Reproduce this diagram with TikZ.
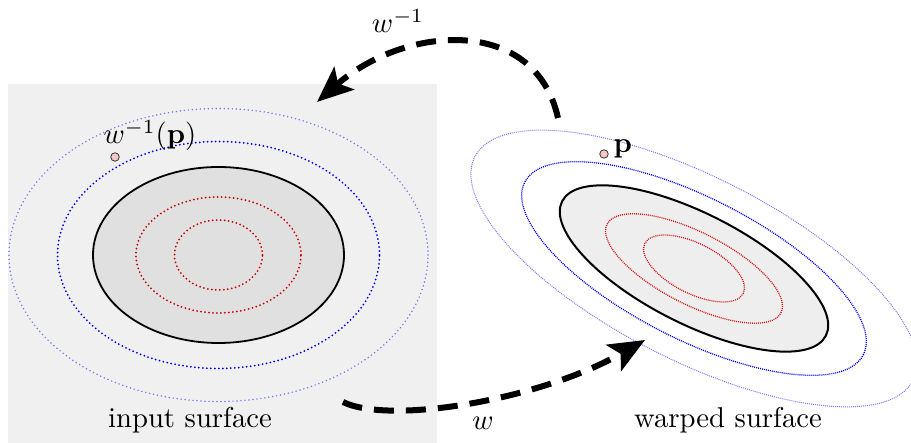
\documentclass[tikz,border=0pt]{standalone}
\usetikzlibrary{arrows.meta}
\definecolor{bgray}{RGB}{240,240,240}
\definecolor{egray}{RGB}{224,224,224}
\definecolor{rgray}{RGB}{238,238,238}
\definecolor{lblue}{RGB}{120,120,255}
\definecolor{dblue}{RGB}{0,0,235}
\definecolor{dred}{RGB}{200,0,0}
\definecolor{pinkpt}{RGB}{245,200,200}
\tikzset{
  lbl/.style={scale=2.87, inner sep=0pt, anchor=base},
  dotL/.style={line cap=round, dash pattern=on 0pt off 4pt, line width=2pt},
  dotLL/.style={line cap=round, dash pattern=on 0pt off 4pt, line width=1.7pt},
  dotR/.style={dash pattern=on 1pt off 1pt, line width=1.3pt},
  dotRL/.style={dash pattern=on 1pt off 1pt, line width=1pt},
  mapsto/.style={line width=6pt, dash pattern=on 20pt off 12pt,
    -{Stealth[length=36pt, width=30pt, inset=8pt]}},
  ptmark/.style={circle, draw=black!80, fill=pinkpt, line width=0.8pt, minimum size=8.5pt, inner sep=0pt}
}
\begin{document}
\begin{tikzpicture}[x=1pt,y=1pt]
\useasboundingbox (0,0) rectangle (911,443);
\clip (0,0) rectangle (911,443);
% input surface background
\fill[bgray] (8,0) rectangle (437,359);
% left ellipses
\coordinate (cl) at (218.5,188);
\draw[lblue, dotLL] (cl) ellipse [x radius=209.5, y radius=146.5];
\draw[dblue, dotL] (cl) ellipse [x radius=161, y radius=113.5];
\draw[black, line width=1.8pt, fill=egray] (cl) ellipse [x radius=125.5, y radius=88];
\draw[dred, dotL] (cl) ellipse [x radius=82.5, y radius=58];
\draw[dred, dotL] (cl) ellipse [x radius=44, y radius=35];
% right ellipses
\coordinate (cr) at (694,174.5);
\begin{scope}[rotate around={-27:(cr)}]
\draw[lblue, dotRL] (cr) ellipse [x radius=246, y radius=91.6];
\draw[dblue, dotR] (cr) ellipse [x radius=190, y radius=70.7];
\draw[black, line width=2pt, fill=rgray] (cr) ellipse [x radius=148, y radius=55];
\draw[dred!90, dotR] (cr) ellipse [x radius=97.6, y radius=36];
\draw[dred!90, dotR] (cr) ellipse [x radius=55.2, y radius=24.9];
\end{scope}
% points
\node[ptmark] (pl) at (115,286) {};
\node[lbl, anchor=base west] (pll) at (103,299) {$w^{-1}(\mathbf{p})$};
\node[ptmark] (pr) at (604,289) {};
\node[lbl, anchor=base west] (prl) at (613,290) {$\mathbf{p}$};
% captions
\node[lbl] (in) at (190,15) {input surface};
\node[lbl] (wa) at (728,15) {warped surface};
% arrows
\coordinate (a1s) at (558,325);
\coordinate (a1e) at (317,341);
\draw[mapsto] (a1s) .. controls (535,428) and (405,418) .. (a1e);
\node[lbl] (winv) at (398,410) {$w^{-1}$};
\coordinate (a2s) at (343,41);
\coordinate (a2e) at (645,103);
\draw[mapsto] (a2s) .. controls (390,18) and (540,43) .. (a2e);
\node[lbl] (wl) at (483,13) {$w$};
\end{tikzpicture}
\end{document}
